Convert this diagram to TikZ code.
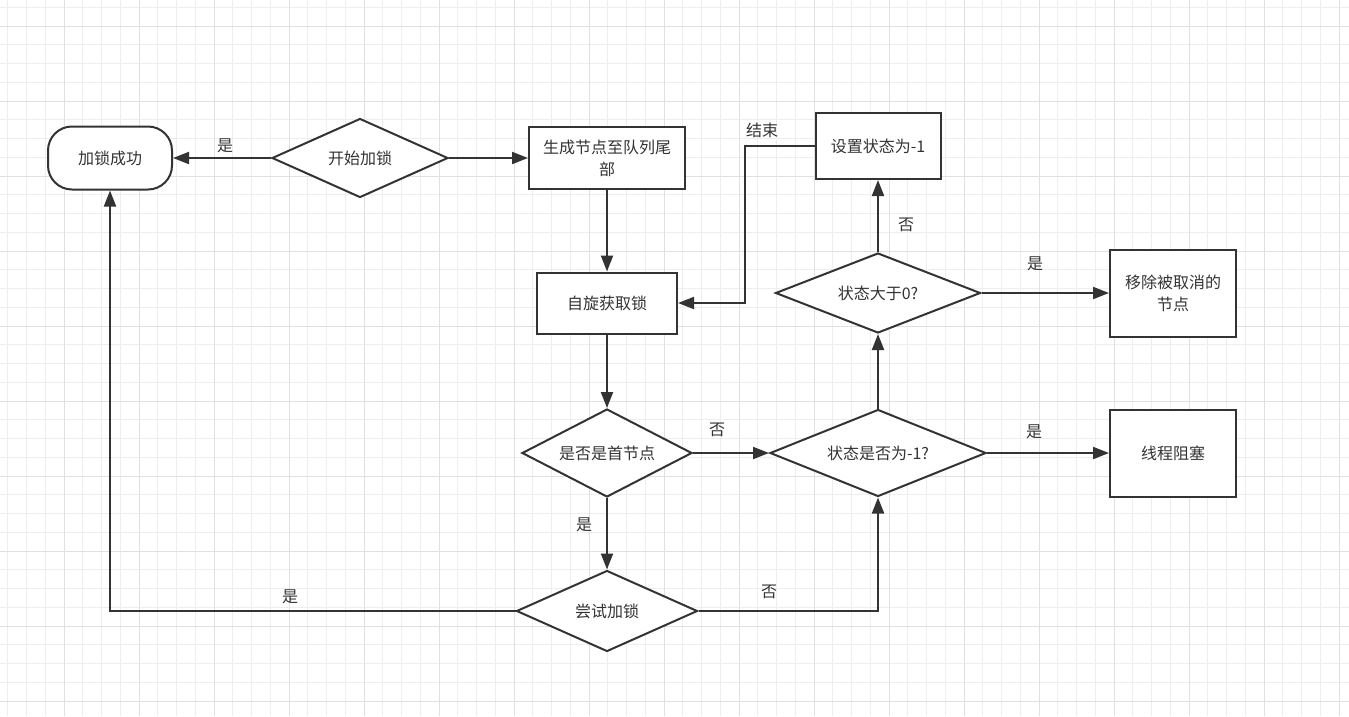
\documentclass[tikz,border=0pt]{standalone}
\usepackage{fontspec}
\setmainfont{Noto Sans CJK SC}
\usetikzlibrary{shapes.geometric,arrows.meta,calc}
\definecolor{ink}{HTML}{333333}
\definecolor{gminor}{HTML}{EEEEEE}
\definecolor{gmajor}{HTML}{E0E0E0}
\begin{document}
\begin{tikzpicture}[x=1pt,y=-1pt,
  every node/.style={font=\fontsize{16}{22}\selectfont, text=ink},
  box/.style={draw=ink, line width=2pt, fill=white, rectangle, inner sep=0pt, align=center},
  dia/.style={draw=ink, line width=2pt, fill=white, diamond, aspect=2.2, inner sep=0pt, align=center},
  arr/.style={draw=ink, line width=2pt, -{Triangle[length=16pt,width=12pt]}},
  lbl/.style={font=\fontsize{16}{18}\selectfont, text=ink}
]
\useasboundingbox (0,0) rectangle (1349,716);
\fill[white] (0,0) rectangle (1349,716);
% grid
\foreach \k in {0,...,71} {
  \draw[gminor, line width=0.8pt] ({7.75+18.75*\k},0) -- ({7.75+18.75*\k},716);
}
\foreach \k in {0,...,38} {
  \draw[gminor, line width=0.8pt] (0,{7.25+18.75*\k}) -- (1349,{7.25+18.75*\k});
}
\foreach \k in {0,...,17} {
  \draw[gmajor, line width=1pt] ({64+75*\k},0) -- ({64+75*\k},716);
}
\foreach \k in {0,...,9} {
  \draw[gmajor, line width=1pt] (0,{26+75*\k}) -- (1349,{26+75*\k});
}

% nodes
\node[box, rounded corners=24pt, minimum width=124pt, minimum height=63pt] (ok) at (110,158) {加锁成功};
\node[dia, minimum width=176pt, minimum height=79pt] (start) at (360,158) {开始加锁};
\node[box, minimum width=156pt, minimum height=62pt] (gen) at (607,158) {生成节点至队列尾\\部};
\node[box, minimum width=140pt, minimum height=61pt] (spin) at (607,303) {自旋获取锁};
\node[dia, minimum width=170pt, minimum height=88pt] (head) at (607,453) {是否是首节点};
\node[dia, minimum width=181pt, minimum height=81pt] (try) at (607,611) {尝试加锁};
\node[dia, minimum width=216pt, minimum height=87pt] (neg) at (878,453) {状态是否为-1?};
\node[dia, minimum width=205pt, minimum height=80pt] (pos) at (878,293) {状态大于0?};
\node[box, minimum width=125pt, minimum height=66pt] (set) at (878,146) {设置状态为-1};
\node[box, minimum width=126pt, minimum height=87pt] (rm) at (1173,293) {移除被取消的\\节点};
\node[box, minimum width=126pt, minimum height=87pt] (blk) at (1173,453) {线程阻塞};

\coordinate (bend) at (745,0);

% edges
\draw[arr] (start.west) -- (ok.east);
\draw[arr] (start.east) -- (gen.west);
\draw[arr] (gen.south) -- (spin.north);
\draw[arr] (set.west) -| (bend |- spin.east) -- (spin.east);
\draw[arr] (spin.south) -- (head.north);
\draw[arr] (head.east) -- (neg.west);
\draw[arr] (head.south) -- (try.north);
\draw[arr] (try.west) -| (ok.south);
\draw[arr] (try.east) -| (neg.south);
\draw[arr] (neg.north) -- (pos.south);
\draw[arr] (pos.north) -- (set.south);
\draw[arr] (pos.east) -- (rm.west);
\draw[arr] (neg.east) -- (blk.west);

% labels
\node[lbl] (l1) at (225,146) {是};
\node[lbl] (l2) at (762,130) {结束};
\node[lbl] (l3) at (906,225) {否};
\node[lbl] (l4) at (1035,264) {是};
\node[lbl] (l5) at (717,430) {否};
\node[lbl] (l6) at (1034,432) {是};
\node[lbl] (l7) at (584,525) {是};
\node[lbl] (l8) at (769,592) {否};
\node[lbl] (l9) at (290,597) {是};
\end{tikzpicture}
\end{document}
